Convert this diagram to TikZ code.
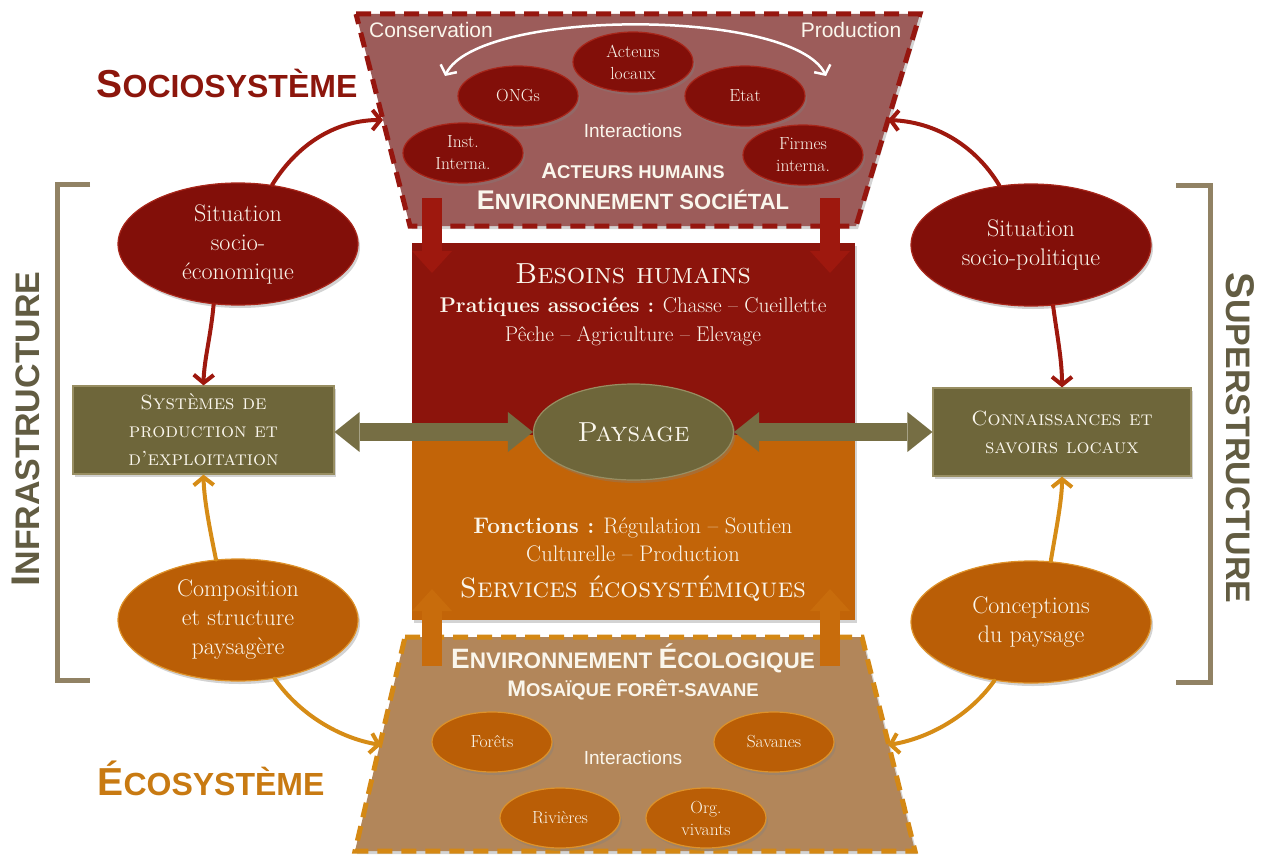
\documentclass[tikz,border=0pt]{standalone}
\usepackage{fontspec}
\newfontfamily\sansf{Liberation Sans}
\usetikzlibrary{arrows.meta,shadows,shapes.geometric,calc}
\newcommand\FS[2]{{\fontsize{#1}{#1}\selectfont #2}}
\definecolor{redfill}{RGB}{130,15,9}
\definecolor{redrect}{RGB}{140,20,12}
\definecolor{redborder}{RGB}{168,38,26}
\definecolor{redarr}{RGB}{158,24,14}
\definecolor{toptrap}{RGB}{156,92,90}
\definecolor{topdash}{RGB}{150,22,15}
\definecolor{orfill}{RGB}{186,94,6}
\definecolor{orrect}{RGB}{194,100,8}
\definecolor{orborder}{RGB}{222,146,42}
\definecolor{orarr}{RGB}{214,140,22}
\definecolor{orblock}{RGB}{200,108,12}
\definecolor{bottrap}{RGB}{178,134,90}
\definecolor{botdash}{RGB}{212,136,20}
\definecolor{olfill}{RGB}{110,102,58}
\definecolor{olborder}{RGB}{152,142,98}
\definecolor{olarr}{RGB}{118,110,68}
\definecolor{brk}{RGB}{145,130,100}
\definecolor{brktxt}{RGB}{98,92,66}
\definecolor{sociotxt}{RGB}{140,22,12}
\definecolor{ecotxt}{RGB}{200,122,18}
\definecolor{txtw}{RGB}{250,246,236}
\begin{document}
\begin{tikzpicture}[x=1pt,y=-1pt,
  shd/.style={drop shadow={shadow xshift=2pt,shadow yshift=-3pt,opacity=0.35}},
  ellbase/.style={ellipse, inner sep=0pt, text=txtw, align=center, line width=1.2pt, shd},
  redell/.style={ellbase, draw=redborder, fill=redfill, minimum width=120pt, minimum height=60pt, font=\fontsize{17.5}{22}\selectfont},
  redellB/.style={ellbase, draw=redborder, fill=redfill, minimum width=240pt, minimum height=122pt, font=\fontsize{24}{29}\selectfont},
  orell/.style={ellbase, draw=orborder, fill=orfill, minimum width=120pt, minimum height=60pt, font=\fontsize{17.5}{22}\selectfont},
  orellB/.style={ellbase, draw=orborder, fill=orfill, minimum width=240pt, minimum height=122pt, font=\fontsize{24}{29}\selectfont},
  olbox/.style={rectangle, draw=olborder, line width=1.2pt, fill=olfill, text=txtw, align=center, inner sep=0pt, shd, font=\fontsize{20.5}{28}\selectfont\scshape},
  bigrect/.style={rectangle, inner sep=0pt, shd},
  sertxt/.style={inner sep=0pt, text=txtw},
  sanstxt/.style={inner sep=0pt, text=txtw, font=\sansf},
  redcurve/.style={draw=redarr, line width=4pt, line cap=round, -{Straight Barb[length=8pt,width=20pt]}},
  orcurve/.style={draw=orarr, line width=4pt, line cap=round, -{Straight Barb[length=8pt,width=20pt]}},
  blockred/.style={draw=redarr, line width=20pt, -{Triangle[length=22pt,width=40pt,line width=0pt]}},
  blockor/.style={draw=orblock, line width=20pt, -{Triangle[length=22pt,width=40pt,line width=0pt]}},
  blockol/.style={draw=olarr, line width=18pt, {Triangle[length=25pt,width=40pt,line width=0pt]}-{Triangle[length=25pt,width=40pt,line width=0pt]}},
  bracket/.style={draw=brk, line width=5pt},
  whitearc/.style={draw=white, line width=2.5pt, line cap=round, {Straight Barb[length=7pt,width=18pt]}-{Straight Barb[length=7pt,width=18pt]}}
]
\useasboundingbox (0,0) rectangle (1265,856);

% brackets and side labels
\draw[bracket] (90,184) -- (57,184) -- (57,680) -- (90,680);
\draw[bracket] (1176,185) -- (1210,185) -- (1210,682) -- (1176,682);
\node[inner sep=0pt, rotate=90, text=brktxt, font=\sansf\bfseries] (infra) at (26,429) {\FS{40}{I}\FS{34}{NFRASTRUCTURE}};
\node[inner sep=0pt, rotate=-90, text=brktxt, font=\sansf\bfseries] (super) at (1240,438) {\FS{40}{S}\FS{34}{UPERSTRUCTURE}};
\node[inner sep=0pt, anchor=base, text=sociotxt, font=\sansf\bfseries] (socio) at (227,98) {\FS{39}{S}\FS{32}{OCIOSYSTÈME}};
\node[inner sep=0pt, anchor=base, text=ecotxt, font=\sansf\bfseries] (eco) at (211,795) {\FS{39}{É}\FS{32}{COSYSTÈME}};

% central rectangles
\node[bigrect, fill=redrect, minimum width=443pt, minimum height=192pt] (besoins) at (633.5,339) {};
\node[bigrect, fill=orrect, minimum width=443pt, minimum height=185pt] (services) at (633.5,527.5) {};
\node[sertxt, anchor=base] (besT) at (633,283) {\fontsize{29}{29}\selectfont\scshape Besoins humains};
\node[sertxt, anchor=base] (prat) at (633,312) {\fontsize{21.3}{21.3}\selectfont\textbf{Pratiques associées :} Chasse – Cueillette};
\node[sertxt, anchor=base] (peche) at (633,341) {\fontsize{21.3}{21.3}\selectfont Pêche – Agriculture – Elevage};
\node[sertxt, anchor=base] (fonc) at (633,533) {\fontsize{22.5}{22.5}\selectfont\textbf{Fonctions :} Régulation – Soutien};
\node[sertxt, anchor=base] (cult) at (633,561) {\fontsize{22.5}{22.5}\selectfont Culturelle – Production};
\node[sertxt, anchor=base] (servT) at (633,597) {\fontsize{28}{28}\selectfont\scshape Services écosystémiques};

% top trapezoid (societal environment)
\coordinate (tTL) at (356,14); \coordinate (tTR) at (920,14);
\coordinate (tBR) at (856,226); \coordinate (tBL) at (410,226);
\fill[toptrap, shd] (tTL) -- (tTR) -- (tBR) -- (tBL) -- cycle;
\draw[topdash, line width=5pt, dash pattern=on 15pt off 9pt] (tTL) -- (tTR) -- (tBR) -- (tBL) -- cycle;
\coordinate (tpL) at (383,120); \coordinate (tpR) at (888,120);
\node[sanstxt, font=\sansf\fontsize{21}{21}\selectfont] (cons) at (431,30) {Conservation};
\node[sanstxt, font=\sansf\fontsize{21}{21}\selectfont] (prod) at (851,30) {Production};
\coordinate (consL) at (445,76); \coordinate (prodR) at (826,76);
\draw[whitearc] (consL) .. controls (478,8) and (793,8) .. (prodR);
\node[redell] (acteurs) at (633,62) {Acteurs\\locaux};
\node[redell] (ongs) at (518,96) {ONGs};
\node[redell] (etat) at (745,96) {Etat};
\node[redell] (inst) at (463,153) {Inst.\\Interna.};
\node[redell] (firmes) at (803,155) {Firmes\\interna.};
\node[sanstxt, anchor=base, font=\sansf\fontsize{19}{19}\selectfont] (interT) at (633,137) {Interactions};
\node[sanstxt, anchor=base, font=\sansf\bfseries] (actH) at (633,178) {\FS{22}{A}\FS{18.5}{CTEURS HUMAINS}};
\node[sanstxt, anchor=base, font=\sansf\bfseries] (envS) at (633,209) {\FS{27}{E}\FS{22}{NVIRONNEMENT SOCIÉTAL}};

% bottom trapezoid (ecological environment)
\coordinate (bTL) at (405,637); \coordinate (bTR) at (862,637);
\coordinate (bBR) at (915,851); \coordinate (bBL) at (355,851);
\fill[bottrap, shd] (bTL) -- (bTR) -- (bBR) -- (bBL) -- cycle;
\draw[botdash, line width=5pt, dash pattern=on 15pt off 9pt] (bTL) -- (bTR) -- (bBR) -- (bBL) -- cycle;
\coordinate (bpL) at (381,745); \coordinate (bpR) at (888,745);
\node[sanstxt, anchor=base, font=\sansf\bfseries] (envE) at (633,668) {\FS{28}{E}\FS{22.5}{NVIRONNEMENT }\FS{28}{É}\FS{22.5}{COLOGIQUE}};
\node[sanstxt, anchor=base, font=\sansf\bfseries] (mosa) at (633,696) {\FS{22.5}{M}\FS{18.5}{OSAÏQUE FORÊT-SAVANE}};
\node[sanstxt, anchor=base, font=\sansf\fontsize{19}{19}\selectfont] (interB) at (633,764) {Interactions};
\node[orell] (forets) at (492,742) {Forêts};
\node[orell] (savanes) at (774,742) {Savanes};
\node[orell] (rivieres) at (560,818) {Rivières};
\node[orell] (org) at (706,818) {Org.\\vivants};

% vertical block arrows
\coordinate (dA1s) at (432,198); \coordinate (dA1e) at (432,273);
\coordinate (dA2s) at (830,198); \coordinate (dA2e) at (830,273);
\coordinate (uA1s) at (432,666); \coordinate (uA1e) at (432,589);
\coordinate (uA2s) at (830,666); \coordinate (uA2e) at (830,589);
\draw[blockred] (dA1s) -- (dA1e);
\draw[blockred] (dA2s) -- (dA2e);
\draw[blockor] (uA1s) -- (uA1e);
\draw[blockor] (uA2s) -- (uA2e);

% side ellipses and boxes
\node[redellB] (sit1) at (238,244) {Situation\\socio-\\économique};
\node[redellB] (sit2) at (1031,245) {Situation\\socio-politique};
\node[orellB] (comp) at (238,620) {Composition\\et structure\\paysagère};
\node[orellB] (conc) at (1031,622) {Conceptions\\du paysage};
\node[olbox, minimum width=261pt, minimum height=88pt] (sys) at (203.5,430) {Systèmes de\\production et\\d’exploitation};
\node[olbox, minimum width=258pt, minimum height=88pt] (conn) at (1062,432) {Connaissances et\\savoirs locaux};

% paysage
\node[ellbase, draw=olborder, fill=olfill, minimum width=200pt, minimum height=96pt, font=\fontsize{27.5}{27.5}\selectfont\scshape] (pays) at (633.5,432) {Paysage};
\draw[blockol] (sys.east |- pays.west) -- (pays.west);
\draw[blockol] (pays.east) -- (conn.west |- pays.east);

% curved connectors
\draw[redcurve] (sit1.60) .. controls (300,140) and (340,120) .. (tpL);
\draw[redcurve] (sit1.248) .. controls (211,335) and (204,360) .. (sys.north);
\draw[redcurve] (sit2.118) .. controls (975,145) and (935,122) .. (tpR);
\draw[redcurve] (sit2.290) .. controls (1057,335) and (1062,360) .. (conn.north);
\draw[orcurve] (comp.110) .. controls (210,530) and (204,500) .. (sys.south);
\draw[orcurve] (comp.302) .. controls (300,715) and (340,738) .. (bpL);
\draw[orcurve] (conc.72) .. controls (1056,530) and (1062,500) .. (conn.south);
\draw[orcurve] (conc.238) .. controls (970,715) and (930,738) .. (bpR);
\end{tikzpicture}
\end{document}
